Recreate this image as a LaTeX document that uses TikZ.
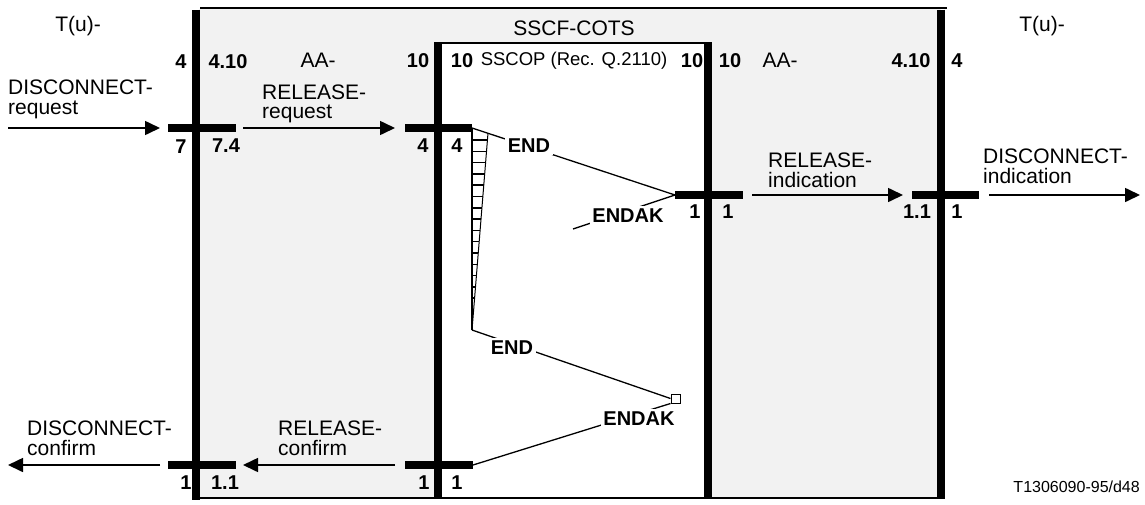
\documentclass[tikz,border=0pt]{standalone}
\usepackage{fontspec}
\setmainfont{Liberation Sans}
\usetikzlibrary{arrows.meta}
\begin{document}
\begin{tikzpicture}[x=1pt,y=-1pt,
  layer/.style={line width=8pt},
  frame/.style={line width=2.6pt},
  bar/.style={line width=7.5pt},
  msg/.style={line width=1.6pt,-{Triangle[length=15pt,width=14pt]}},
  pdu/.style={line width=1.3pt},
  hatch/.style={line width=1.5pt},
  lbl/.style={font=\fontsize{21}{21}\selectfont, inner sep=0pt, anchor=base west},
  ttl/.style={font=\fontsize{21}{21}\selectfont, inner sep=0pt, anchor=base},
  num/.style={font=\fontsize{20}{20}\selectfont\bfseries, inner sep=0pt, anchor=base},
  sig/.style={font=\fontsize{20}{20}\selectfont\bfseries, fill=white, inner sep=2.5pt, anchor=base},
]
\useasboundingbox (0,0) rectangle (1145,504);

% shaded SSCF-COTS area
\fill[gray!10] (200,9) rectangle (941,498);
% SSCOP box
\fill[white] (438,43) rectangle (708,498);
\draw[frame] (200,8) -- (947,8);
\draw[frame] (200,498) -- (945,498);
\draw[frame] (434,43) -- (712,43);

% layer boundaries
\coordinate (lt) at (196,9.5);  \coordinate (lb) at (196,500);
\coordinate (rt) at (941,9.5);  \coordinate (rb) at (941,499);
\coordinate (slt) at (438,42);  \coordinate (slb) at (438,498);
\coordinate (srt) at (708,42);  \coordinate (srb) at (708,498);
\draw[layer] (lt) -- (lb);
\draw[layer] (rt) -- (rb);
\draw[layer] (slt) -- (slb);
\draw[layer] (srt) -- (srb);

% primitive bars
\coordinate (l1w) at (168,128); \coordinate (l1e) at (236,128);
\coordinate (s1w) at (405,128); \coordinate (s1e) at (472,128);
\coordinate (r1w) at (675,195); \coordinate (r1e) at (743,195);
\coordinate (q1w) at (912,195); \coordinate (q1e) at (979,195);
\coordinate (l2w) at (168,465); \coordinate (l2e) at (236,465);
\coordinate (s2w) at (405,465); \coordinate (s2e) at (473,465);
\draw[bar] (l1w) -- (l1e);
\draw[bar] (s1w) -- (s1e);
\draw[bar] (r1w) -- (r1e);
\draw[bar] (q1w) -- (q1e);
\draw[bar] (l2w) -- (l2e);
\draw[bar] (s2w) -- (s2e);

% primitive arrows
\coordinate (a1s) at (8,128);    \coordinate (a1e) at (160,128);
\coordinate (a2s) at (243,128);  \coordinate (a2e) at (395,128);
\coordinate (a3s) at (752,195);  \coordinate (a3e) at (903,195);
\coordinate (a4s) at (989,195);  \coordinate (a4e) at (1140,195);
\coordinate (a5s) at (160,465);  \coordinate (a5e) at (8,465);
\coordinate (a6s) at (395,465);  \coordinate (a6e) at (243,465);
\draw[msg] (a1s) -- (a1e);
\draw[msg] (a2s) -- (a2e);
\draw[msg] (a3s) -- (a3e);
\draw[msg] (a4s) -- (a4e);
\draw[msg] (a5s) -- (a5e);
\draw[msg] (a6s) -- (a6e);

% timer hatching
\coordinate (tt) at (488,133);
\coordinate (tb) at (472,330);
\foreach \i in {0,...,14}{
  \pgfmathsetmacro\yy{140+\i*11.3}
  \pgfmathsetmacro\xx{488-16*(\yy-133)/197}
  \draw[hatch] (472,\yy) -- (\xx,\yy);
}
\draw[line width=2pt] (s1e) -- (tb);
\draw[line width=1pt] (tt) -- (tb);

% PDUs
\coordinate (lost) at (573,229);
\node[draw, fill=white, line width=1pt, minimum size=9pt, inner sep=0pt] (sq) at (675.5,398.5) {};
\draw[pdu] (s1e) -- (r1w);
\draw[pdu] (r1w) -- (lost);
\draw[pdu] (tb) -- (sq.west);
\draw[pdu] (sq.south west) -- (s2e);
\node[sig] (end1) at (529,152) {END};
\node[sig] (endak1) at (628,222) {ENDAK};
\node[sig] (end2) at (512,354) {END};
\node[sig] (endak2) at (639,425) {ENDAK};

% titles
\node[ttl] (tul) at (78,31) {T(u)-};
\node[ttl] (tur) at (1042,31) {T(u)-};
\node[ttl] (sscf) at (574,35) {SSCF-COTS};
\node[ttl, font=\fontsize{18.5}{18.5}\selectfont] (sscop) at (574,65) {SSCOP (Rec. Q.2110)};
\node[ttl] (aal) at (318,67) {AA-};
\node[ttl] (aar) at (780,67) {AA-};

% SAP numbers
\node[num] (n1) at (181,68) {4};
\node[num] (n2) at (228,68) {4.10};
\node[num] (n3) at (418,67) {10};
\node[num] (n4) at (462,67) {10};
\node[num] (n5) at (692,67) {10};
\node[num] (n6) at (730,67) {10};
\node[num] (n7) at (911,67) {4.10};
\node[num] (n8) at (957,67) {4};
\node[num] (n9) at (181,153) {7};
\node[num] (n10) at (226,152) {7.4};
\node[num] (n11) at (423,152) {4};
\node[num] (n12) at (457,152) {4};
\node[num] (n13) at (695,218) {1};
\node[num] (n14) at (728,218) {1};
\node[num] (n15) at (917,218) {1.1};
\node[num] (n16) at (957,218) {1};
\node[num] (n17) at (186,489) {1};
\node[num] (n18) at (225,489) {1.1};
\node[num] (n19) at (424,489) {1};
\node[num] (n20) at (457,489) {1};

% primitive names
\node[lbl] (dra) at (8,94) {DISCONNECT-};
\node[lbl] (drb) at (8,114) {request};
\node[lbl] (rra) at (262,99) {RELEASE-};
\node[lbl] (rrb) at (262,118) {request};
\node[lbl] (ria) at (768,167) {RELEASE-};
\node[lbl] (rib) at (768,187) {indication};
\node[lbl] (dia) at (983,163) {DISCONNECT-};
\node[lbl] (dib) at (983,183) {indication};
\node[lbl] (dca) at (27,435) {DISCONNECT-};
\node[lbl] (dcb) at (27,455) {confirm};
\node[lbl] (rca) at (278,435) {RELEASE-};
\node[lbl] (rcb) at (278,455) {confirm};

\node[font=\fontsize{16}{16}\selectfont, inner sep=0pt, anchor=base east] (ref) at (1140,492) {T1306090-95/d48};
\end{tikzpicture}
\end{document}
